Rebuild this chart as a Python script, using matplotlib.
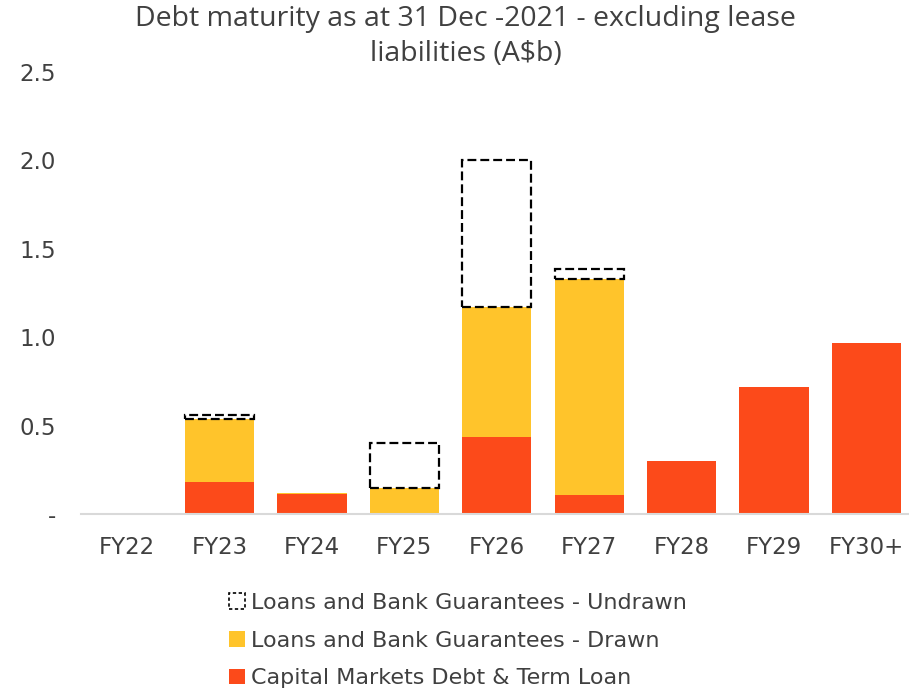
import matplotlib
matplotlib.use("Agg")
import matplotlib.pyplot as plt
from matplotlib.patches import Patch

categories = ["FY22", "FY23", "FY24", "FY25", "FY26", "FY27", "FY28", "FY29", "FY30+"]
capital_markets = [0.0, 0.18, 0.115, 0.0, 0.435, 0.11, 0.30, 0.72, 0.97]
drawn = [0.0, 0.355, 0.005, 0.15, 0.735, 1.22, 0.0, 0.0, 0.0]
undrawn = [0.0, 0.025, 0.0, 0.25, 0.83, 0.055, 0.0, 0.0, 0.0]
y_ticks = [0, 0.5, 1.0, 1.5, 2.0, 2.5]
y_tick_labels = ["-", "0.5", "1.0", "1.5", "2.0", "2.5"]

RED = "#FC4A1A"
YELLOW = "#FFC42B"
TEXT = "#404040"

plt.rcParams["font.family"] = ["DejaVu Sans"]

fig = plt.figure(figsize=(9.09, 6.91), dpi=100)
ax = fig.add_axes([0.089, 0.256, 0.915, 0.640])

x = list(range(len(categories)))
w = 0.75
ax.bar(x, capital_markets, width=w, color=RED, edgecolor="none")
ax.bar(x, drawn, width=w, bottom=capital_markets, color=YELLOW, edgecolor="none")
bottom3 = [a + b for a, b in zip(capital_markets, drawn)]
for xi, b, h in zip(x, bottom3, undrawn):
    if h > 0:
        ax.bar(xi, h, width=w, bottom=b, fill=False, edgecolor="black",
               linestyle=(0, (4, 1.8)), linewidth=1.6)

ax.set_xlim(-0.5, len(categories) - 0.5)
ax.set_ylim(0, 2.5)
ax.set_yticks(y_ticks)
ax.set_yticklabels(y_tick_labels)
ax.set_xticks(x)
ax.set_xticklabels(categories)
ax.tick_params(axis="both", length=0, labelsize=16.5, colors=TEXT)
ax.tick_params(axis="y", pad=18)
ax.tick_params(axis="x", pad=16)
for s in ["top", "right", "left"]:
    ax.spines[s].set_visible(False)
ax.spines["bottom"].set_color("#D9D9D9")
ax.spines["bottom"].set_linewidth(1.5)

fig.text(0.512, 0.993, "Debt maturity as at 31 Dec -2021 - excluding lease\nliabilities (A$b)",
         ha="center", va="top", fontsize=20.5, color=TEXT, linespacing=1.36,
         family=["Open Sans", "DejaVu Sans"])

handles = [
    Patch(facecolor="none", edgecolor="black", linestyle=(0, (2, 1.5)), linewidth=1.2,
          label="Loans and Bank Guarantees - Undrawn"),
    Patch(facecolor=YELLOW, edgecolor="none", label="Loans and Bank Guarantees - Drawn"),
    Patch(facecolor=RED, edgecolor="none", label="Capital Markets Debt & Term Loan"),
]
leg = fig.legend(handles=handles, loc="upper left", bbox_to_anchor=(0.252, 0.142),
                 frameon=False, fontsize=16, handlelength=0.7, handleheight=0.7,
                 handletextpad=0.3, labelspacing=0.8, borderaxespad=0, borderpad=0)
for t in leg.get_texts():
    t.set_color(TEXT)

fig.savefig("out.png", dpi=100)
